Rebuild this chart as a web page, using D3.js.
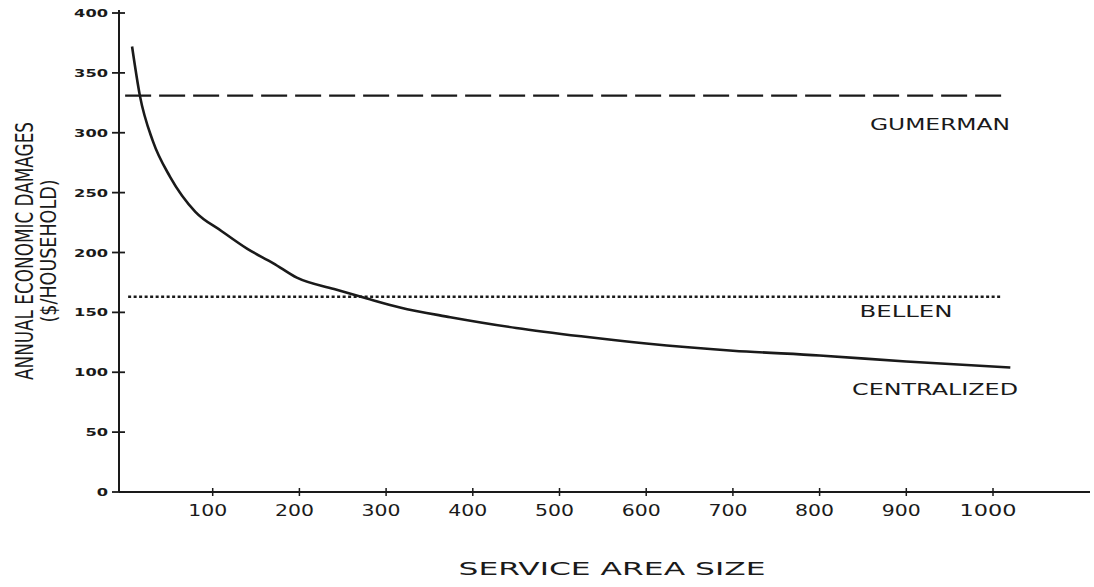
<!DOCTYPE html>
<html lang="en">
<head>
    <meta charset="UTF-8">
    <title>Annual Economic Damages vs Service Area Size</title>
    <script src="https://cdnjs.cloudflare.com/ajax/libs/d3/7.8.5/d3.min.js"></script>
    <style>
        body {
            margin: 0;
            background: #ffffff;
        }
        svg text {
            font-family: "DejaVu Sans", sans-serif;
            fill: #1a1a1a;
        }
    </style>
</head>
<body>
    <svg id="chart" width="1094" height="587"></svg>

    <script>
        // Centralized curve
        const centralX = [7, 16, 31, 51, 80, 110, 140, 170, 197, 240, 278, 316, 374, 450, 525, 600, 700, 800, 900, 1020];
        const centralY = [372, 331, 293, 263, 234, 218, 203, 191, 179, 169.5, 161.5, 154, 146, 137, 130, 124, 118, 114, 109, 104];

        // Flat reference lines
        const gumermanLevel = 331;
        const bellenLevel = 163;
        const flatExtent = [-1, 1013];

        const xTicks = [100, 200, 300, 400, 500, 600, 700, 800, 900, 1000];
        const yTicks = [0, 50, 100, 150, 200, 250, 300, 350, 400];

        const svg = d3.select("#chart");

        const x = d3.scaleLinear().domain([0, 1000]).range([126, 993]);
        const y = d3.scaleLinear().domain([0, 400]).range([492, 13]);

        const axisX = 119;   // where the vertical axis sits
        const ink = "#1a1a1a";

        // Axis lines
        svg.append("line")
            .attr("x1", axisX).attr("x2", axisX)
            .attr("y1", y(400) - 3).attr("y2", y(0))
            .attr("stroke", ink).attr("stroke-width", 2);

        svg.append("line")
            .attr("x1", axisX).attr("x2", 1090)
            .attr("y1", y(0)).attr("y2", y(0))
            .attr("stroke", ink).attr("stroke-width", 2);

        // Y ticks + labels
        svg.selectAll(".ytick")
            .data(yTicks)
            .enter()
            .append("line")
            .attr("x1", axisX - 7).attr("x2", axisX + 6)
            .attr("y1", d => y(d)).attr("y2", d => y(d))
            .attr("stroke", ink).attr("stroke-width", 1.8);

        svg.selectAll(".ylabel")
            .data(yTicks)
            .enter()
            .append("text")
            .attr("x", axisX - 11)
            .attr("y", d => y(d) + 4)
            .attr("text-anchor", "end")
            .attr("font-size", "11px")
            .attr("font-weight", "bold")
            .attr("textLength", d => String(d).length * 11.3)
            .attr("lengthAdjust", "spacingAndGlyphs")
            .text(d => d);

        // X ticks + labels
        svg.selectAll(".xtick")
            .data(xTicks)
            .enter()
            .append("line")
            .attr("x1", d => x(d)).attr("x2", d => x(d))
            .attr("y1", y(0) - 4).attr("y2", y(0) + 4)
            .attr("stroke", ink).attr("stroke-width", 1.5);

        svg.selectAll(".xlabel")
            .data(xTicks)
            .enter()
            .append("text")
            .attr("x", d => x(d) - 5)
            .attr("y", 516)
            .attr("text-anchor", "middle")
            .attr("font-size", "15px")
            .attr("textLength", d => d >= 1000 ? 57 : 39)
            .attr("lengthAdjust", "spacingAndGlyphs")
            .text(d => d);

        // Axis titles
        svg.append("text")
            .attr("x", 612)
            .attr("y", 575)
            .attr("text-anchor", "middle")
            .attr("font-size", "18px")
            .attr("textLength", 307)
            .attr("lengthAdjust", "spacingAndGlyphs")
            .text("SERVICE AREA SIZE");

        svg.append("text")
            .attr("transform", "translate(33,251) rotate(-90)")
            .attr("text-anchor", "middle")
            .attr("font-size", "24px")
            .attr("textLength", 258)
            .attr("lengthAdjust", "spacingAndGlyphs")
            .text("ANNUAL ECONOMIC DAMAGES");

        svg.append("text")
            .attr("transform", "translate(56,251) rotate(-90)")
            .attr("text-anchor", "middle")
            .attr("font-size", "21px")
            .attr("textLength", 143)
            .attr("lengthAdjust", "spacingAndGlyphs")
            .text("($/HOUSEHOLD)");

        // Gumerman (dashed) and Bellen (dotted) reference lines
        svg.append("line")
            .attr("x1", x(flatExtent[0])).attr("x2", x(flatExtent[1]))
            .attr("y1", y(gumermanLevel)).attr("y2", y(gumermanLevel))
            .attr("stroke", ink).attr("stroke-width", 2.2)
            .attr("stroke-dasharray", "26,8");

        svg.append("line")
            .attr("x1", x(flatExtent[0]) + 3).attr("x2", x(flatExtent[1]) - 2)
            .attr("y1", y(bellenLevel)).attr("y2", y(bellenLevel))
            .attr("stroke", ink).attr("stroke-width", 2.6)
            .attr("stroke-dasharray", "3,2.5");

        // Centralized curve
        const curveData = centralX.map((d, i) => ({ x: d, y: centralY[i] }));
        const line = d3.line()
            .x(d => x(d.x))
            .y(d => y(d.y))
            .curve(d3.curveMonotoneX);

        svg.append("path")
            .datum(curveData)
            .attr("d", line)
            .attr("fill", "none")
            .attr("stroke", ink)
            .attr("stroke-width", 2.6);

        // Series labels
        const labels = [
            { text: "GUMERMAN", x: 940, y: 130, w: 140 },
            { text: "BELLEN", x: 906, y: 317, w: 93 },
            { text: "CENTRALIZED", x: 935, y: 395, w: 166 }
        ];
        svg.selectAll(".series-label")
            .data(labels)
            .enter()
            .append("text")
            .attr("x", d => d.x)
            .attr("y", d => d.y)
            .attr("text-anchor", "middle")
            .attr("font-size", "16px")
            .attr("textLength", d => d.w)
            .attr("lengthAdjust", "spacingAndGlyphs")
            .text(d => d.text);
    </script>
</body>
</html>
